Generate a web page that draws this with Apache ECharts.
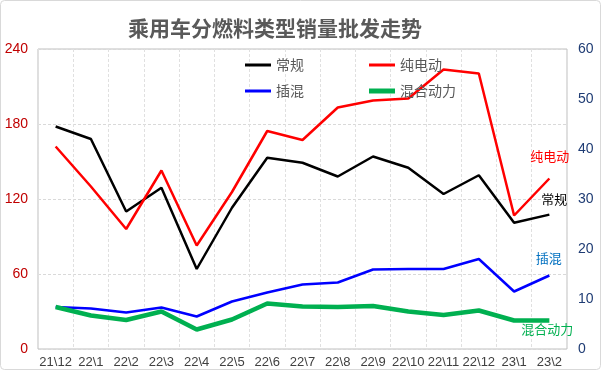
<!DOCTYPE html>
<html><head><meta charset="utf-8">
<script src="https://cdn.jsdelivr.net/npm/echarts@6/dist/echarts.min.js"></script>
<style>html,body{margin:0;padding:0;background:#fff}#c{width:602px;height:371px}</style>
</head><body><div id="c"></div>
<script>
const categories = ['21\\12','22\\1','22\\2','22\\3','22\\4','22\\5','22\\6','22\\7','22\\8','22\\9','22\\10','22\\11','22\\12','23\\1','23\\2'];
// left axis
const conventional = [178,168,110,129,64,113,153,149,138,154,145,124,139,101,107.5];
// right axis
const bev = [40.5,32.5,24,35.7,20.7,31.4,43.6,41.8,48.3,49.7,50.1,55.9,55.1,26.7,34.1];
const phev = [8.4,8.1,7.3,8.3,6.5,9.5,11.3,12.9,13.3,15.9,16,16,18,11.5,14.7];
const hybrid = [8.4,6.7,5.8,7.5,3.9,5.9,9.1,8.5,8.4,8.6,7.5,6.8,7.7,5.7,5.7];
const leftTicks = [0,240,60];
const rightTicks = [0,60,10];

const cjk = "'Noto Sans CJK SC','Liberation Sans',sans-serif";
const num = "'Liberation Sans','Noto Sans CJK SC',sans-serif";

function endLabel(text, color, offset) {
  return {show: true, formatter: text, color: color, distance: 0, offset: offset,
          fontSize: 13, fontFamily: cjk, align: 'left', verticalAlign: 'middle'};
}
function legendAt(name, left, top, h) {
  return {data: [name], left: left, top: top, itemWidth: 26, itemHeight: h, icon: 'rect',
          textStyle: {fontSize: 14, color: '#595959', fontFamily: cjk}};
}

const chart = echarts.init(document.getElementById('c'), null, {renderer: 'canvas'});
chart.setOption({
  animation: false,
  backgroundColor: '#fff',
  graphic: [{type: 'rect', shape: {x: 0.5, y: 0.5, width: 600, height: 369, r: 4}, style: {fill: 'none', stroke: '#d9d9d9', lineWidth: 1}, z: -1}],
  title: {text: '乘用车分燃料类型销量批发走势', left: 123, top: 13,
    textStyle: {fontSize: 21, fontWeight: 'bold', color: '#595959', fontFamily: cjk}},
  legend: [
    legendAt('常规', 240, 53, 3),
    legendAt('纯电动', 364, 53, 3),
    legendAt('插混', 240, 79, 3),
    legendAt('混合动力', 364, 79, 5)
  ],
  grid: {left: 38, right: 35, top: 49, bottom: 22, show: true, borderColor: '#bfbfbf', borderWidth: 1},
  xAxis: {type: 'category', data: categories, boundaryGap: true,
    axisLine: {show: false}, axisTick: {show: false},
    axisLabel: {color: '#404040', fontSize: 13, margin: 7, fontFamily: num, interval: 0},
    splitLine: {show: true, lineStyle: {color: '#e0e0e0', type: [3, 2], width: 1}}},
  yAxis: [
    {type: 'value', min: leftTicks[0], max: leftTicks[1], interval: leftTicks[2],
     axisLine: {show: false}, axisTick: {show: false},
     axisLabel: {color: '#c00000', fontSize: 14, margin: 10, fontFamily: num},
     splitLine: {show: true, lineStyle: {color: '#d9d9d9', type: [3, 2], width: 1}}},
    {type: 'value', min: rightTicks[0], max: rightTicks[1], interval: rightTicks[2],
     axisLine: {show: false}, axisTick: {show: false},
     axisLabel: {color: '#1f3c74', fontSize: 14, margin: 11, fontFamily: num},
     splitLine: {show: false}}
  ],
  series: [
    {name: '常规', type: 'line', yAxisIndex: 0, symbol: 'none', color: '#000000',
     lineStyle: {width: 2.5, color: '#000000'}, data: conventional,
     endLabel: endLabel('常规', '#000000', [-8, -15.5])},
    {name: '纯电动', type: 'line', yAxisIndex: 1, symbol: 'none', color: '#ff0000',
     lineStyle: {width: 2.5, color: '#ff0000'}, data: bev,
     endLabel: endLabel('纯电动', '#ff0000', [-19, -22.3])},
    {name: '插混', type: 'line', yAxisIndex: 1, symbol: 'none', color: '#0000ff',
     lineStyle: {width: 2.5, color: '#0000ff'}, data: phev,
     endLabel: endLabel('插混', '#0070c0', [-13.5, -17])},
    {name: '混合动力', type: 'line', yAxisIndex: 1, symbol: 'none', color: '#00b050',
     lineStyle: {width: 4.5, color: '#00b050'}, data: hybrid,
     endLabel: endLabel('混合动力', '#00b050', [-28, 8.3])}
  ]
});
</script></body></html>
